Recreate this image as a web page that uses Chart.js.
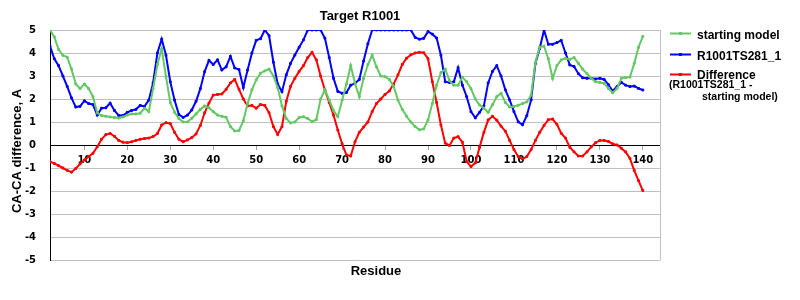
<!DOCTYPE html>
<html>
<head>
<meta charset="utf-8">
<script src="https://cdn.jsdelivr.net/npm/chart.js@4"></script>
<style>
html,body{margin:0;padding:0;background:#fff;}
#c{display:block;}
</style>
</head>
<body>
<canvas id="c" width="800" height="300"></canvas>
<script>
const residues = [2,3,4,5,6,7,8,9,10,11,12,13,14,15,16,17,18,19,20,21,
22,23,24,25,26,27,28,29,30,31,32,33,34,35,36,37,38,39,40,41,
42,43,44,45,46,47,48,49,50,51,52,53,54,55,56,57,58,59,60,61,
62,63,64,65,66,67,68,69,70,71,72,73,74,75,76,77,78,79,80,81,
82,83,84,85,86,87,88,89,90,91,92,93,94,95,96,97,98,99,100,101,
102,103,104,105,106,107,108,109,110,111,112,113,114,115,116,117,118,119,120,121,
122,123,124,125,126,127,128,129,130,131,132,133,134,135,136,137,138,139,140];

const startingModel = [5.0,4.7,4.15,3.9,3.82,3.3,2.65,2.45,2.65,2.45,2.1,1.4,1.28,1.25,1.22,1.2,1.17,1.22,1.3,1.35,
1.35,1.38,1.6,1.45,2.45,3.5,4.17,2.97,1.85,1.42,1.15,1.0,1.0,1.16,1.35,1.55,1.7,1.62,1.45,1.3,
1.25,1.2,0.8,0.61,0.63,1.05,1.8,2.4,2.83,3.12,3.22,3.3,3.0,2.5,1.7,1.15,0.96,1.0,1.2,1.23,
1.15,1.02,1.1,2.0,2.4,1.95,1.5,1.23,1.95,2.65,3.45,2.68,2.1,2.9,3.5,3.9,3.4,3.0,2.97,2.85,
2.55,1.95,1.55,1.25,1.0,0.8,0.66,0.7,1.09,1.8,2.6,3.15,3.3,2.8,2.6,2.6,2.95,2.75,2.45,2.0,
1.74,1.6,1.42,1.75,2.1,2.25,1.85,1.65,1.67,1.73,1.8,1.87,2.17,3.6,4.25,4.3,3.75,2.9,3.45,3.7,
3.77,3.72,3.8,3.55,3.3,3.1,2.9,2.75,2.72,2.68,2.46,2.27,2.46,2.9,2.93,2.95,3.55,4.25,4.72];

const modelTS281 = [4.3,3.75,3.45,3.0,2.55,2.05,1.65,1.68,1.92,1.8,1.76,1.3,1.6,1.62,1.82,1.5,1.28,1.28,1.42,1.5,
1.55,1.72,1.68,1.95,2.7,4.0,4.6,3.9,2.75,1.95,1.32,1.2,1.3,1.52,1.9,2.45,3.19,3.68,3.5,3.7,
3.26,3.4,3.85,3.35,3.28,2.5,3.26,4.0,4.55,4.62,5.0,4.75,3.6,2.65,2.32,3.05,3.55,3.91,4.25,4.57,
5.0,5.0,5.0,5.0,4.64,3.8,2.9,2.33,2.25,2.28,2.6,2.68,2.85,3.65,4.4,5.0,5.0,5.0,5.0,5.0,
5.0,5.0,5.0,5.0,5.0,4.68,4.6,4.64,4.93,4.82,4.65,3.9,2.75,2.72,2.75,3.36,2.6,2.1,1.45,1.18,
1.42,1.7,2.7,3.2,3.45,3.0,2.4,1.96,1.45,1.01,0.88,1.28,1.96,3.55,4.2,5.0,4.38,4.38,4.45,4.55,
4.0,3.48,3.41,3.1,2.92,2.9,2.9,2.87,2.9,2.85,2.62,2.35,2.54,2.72,2.6,2.54,2.56,2.46,2.39];

const difference = [-0.72,-0.8,-0.9,-1.0,-1.1,-1.18,-1.02,-0.82,-0.65,-0.5,-0.36,-0.08,0.25,0.45,0.5,0.38,0.2,0.12,0.1,0.14,
0.2,0.25,0.28,0.3,0.37,0.5,0.87,0.97,0.93,0.55,0.25,0.14,0.22,0.32,0.48,0.85,1.4,1.82,2.17,2.2,
2.22,2.42,2.7,2.85,2.42,2.0,1.7,1.72,1.6,1.76,1.72,1.4,0.8,0.46,0.8,1.9,2.55,2.9,3.2,3.45,
3.8,4.03,3.7,3.0,2.39,1.85,1.3,0.65,0.05,-0.43,-0.48,0.14,0.55,0.78,1.0,1.45,1.8,2.0,2.2,2.35,
2.65,3.05,3.5,3.77,3.92,4.0,4.03,4.01,3.75,2.75,1.85,0.87,0.08,-0.02,0.3,0.36,0.12,-0.72,-0.94,-0.78,
-0.1,0.55,1.09,1.25,1.08,0.82,0.6,0.2,-0.2,-0.5,-0.61,-0.5,-0.2,0.2,0.55,0.85,1.1,1.13,0.9,0.51,
0.3,-0.1,-0.3,-0.48,-0.48,-0.3,-0.08,0.1,0.2,0.2,0.15,0.05,0.0,-0.14,-0.3,-0.58,-1.1,-1.55,-1.98];

const xTicks = [10,20,30,40,50,60,70,80,90,100,110,120,130,140];
const yTicks = [-5,-4,-3,-2,-1,0,1,2,3,4,5];
const seriesNames = ['starting model','R1001TS281_1','Difference'];
const legendNote = ['(R1001TS281_1 -','starting model)'];
const chartTitle = 'Target R1001';
const xTitle = 'Residue';
const yTitle = 'CA-CA difference, A';

const GREEN = 'rgb(100,200,100)';
const BLUE = 'rgb(0,0,255)';
const RED = 'rgb(255,0,0)';
const colors = [GREEN, BLUE, RED];

function toXY(vals){ return residues.map((r,i)=>({x:r, y:vals[i]})); }

function ds(label, vals, color){
  return {
    label, data: toXY(vals),
    borderColor: color, backgroundColor: color,
    borderWidth: 2, tension: 0,
    pointStyle: 'rect', pointRadius: 1.3, pointBorderWidth: 1,
    pointBackgroundColor: color, pointBorderColor: color,
    fill: false
  };
}

const textPlugin = {
  id: 'texts',
  afterDraw(chart){
    const c = chart.ctx, a = chart.chartArea;
    c.save();
    c.strokeStyle = '#c0c0c0'; c.lineWidth = 1;
    c.beginPath(); c.moveTo(Math.round(a.right)+0.5, a.top); c.lineTo(Math.round(a.right)+0.5, a.bottom); c.stroke();
    c.fillStyle = '#000';
    c.textAlign = 'center'; c.textBaseline = 'alphabetic';
    c.font = 'bold 13px "Liberation Sans", Arial, sans-serif';
    c.fillText(chartTitle, 360, 20);
    c.fillText(xTitle, 376, 275);
    c.save();
    c.translate(21, 151); c.rotate(-Math.PI/2);
    c.fillText(yTitle, 0, 0);
    c.restore();
    const ly = [33.5, 54.5, 74.5];
    const tb = [38.5, 59.5, 79];
    c.textAlign = 'left';
    c.font = 'bold 12px "Liberation Sans", Arial, sans-serif';
    for (let i=0;i<3;i++){
      c.strokeStyle = colors[i]; c.lineWidth = 2;
      c.beginPath(); c.moveTo(670, ly[i]); c.lineTo(691, ly[i]); c.stroke();
      c.fillStyle = colors[i];
      c.fillRect(679, ly[i]-1.5, 3, 3);
      c.fillStyle = '#000';
      c.fillText(seriesNames[i], 697, tb[i]);
    }
    c.font = 'bold 10.5px "Liberation Sans", Arial, sans-serif';
    c.fillText(legendNote[0], 669, 88);
    c.fillText(legendNote[1], 702, 100);
    c.restore();
  }
};

new Chart(document.getElementById('c'), {
  type: 'line',
  data: { datasets: [ds(seriesNames[0], startingModel, GREEN), ds(seriesNames[1], modelTS281, BLUE), ds(seriesNames[2], difference, RED)] },
  options: {
    responsive: false, animation: false, devicePixelRatio: 1,
    layout: { padding: { top: 30, right: 140, bottom: 40, left: 0 } },
    plugins: { legend: { display: false }, title: { display: false }, tooltip: { enabled: false } },
    scales: {
      x: {
        type: 'linear', min: 2, max: 144, position: { y: 0 },
        afterFit: s => { s.height = 0; },
        afterBuildTicks: s => { s.ticks = xTicks.map(v => ({ value: v })); },
        grid: { drawOnChartArea: false, drawTicks: true, tickLength: 4, color: '#a0a0a0' },
        border: { color: '#000', width: 1 },
        ticks: { font: { family: 'DejaVu Sans', weight: 'bold', size: 10 }, color: '#000', padding: 5, maxRotation: 0, autoSkip: false }
      },
      y: {
        min: -5, max: 5,
        afterFit: s => { s.width = 50; },
        afterBuildTicks: s => { s.ticks = yTicks.map(v => ({ value: v })); },
        grid: { color: ctx => (ctx.tick && ctx.tick.value === 0) ? '#000' : '#c0c0c0', drawTicks: false, lineWidth: 1 },
        border: { color: '#000', width: 1 },
        ticks: { padding: 14, color: '#000', font: { family: 'DejaVu Sans', weight: 'bold', size: 10 },
                 callback: v => String(v) }
      }
    }
  },
  plugins: [textPlugin]
});
</script>
</body>
</html>
